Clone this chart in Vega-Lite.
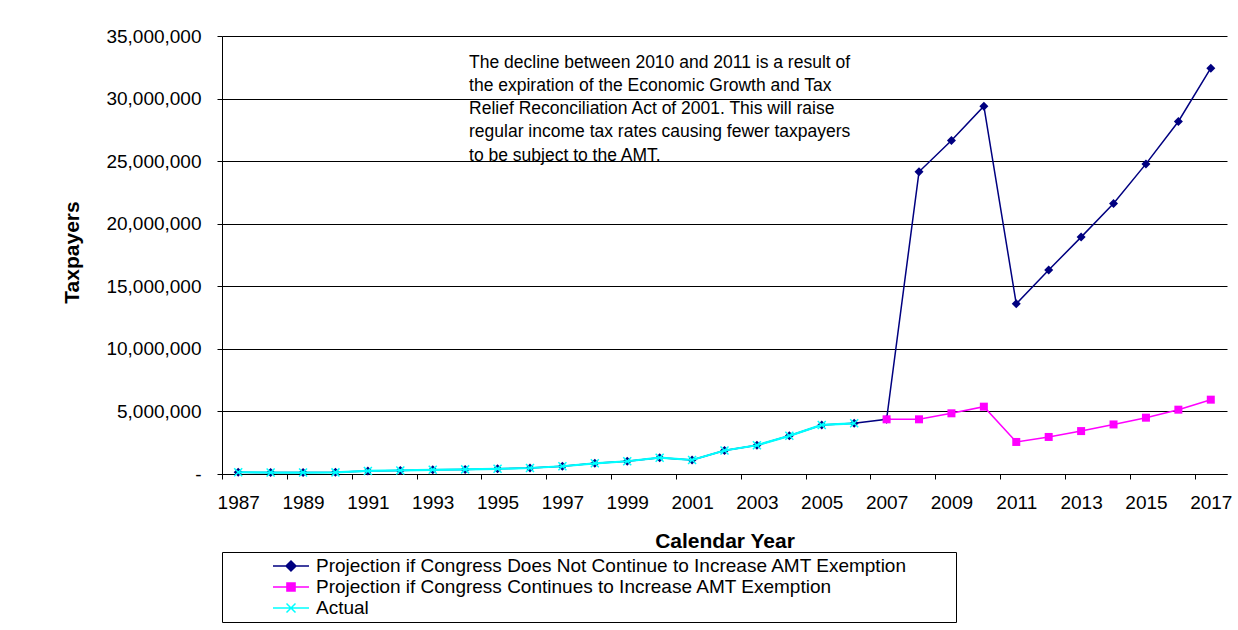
{
  "$schema": "https://vega.github.io/schema/vega-lite/v6.json",
  "width": 1005,
  "height": 438,
  "autosize": {"type": "none"},
  "padding": {"left": 222, "top": 36, "right": 11, "bottom": 156},
  "background": "#ffffff",
  "config": {
    "view": {"stroke": null},
    "font": "Liberation Sans"
  },
  "datasets": {
    "amt": [
      {"Year": 1987, "Series": "Projection if Congress Does Not Continue to Increase AMT Exemption", "Taxpayers": 140000},
      {"Year": 1988, "Series": "Projection if Congress Does Not Continue to Increase AMT Exemption", "Taxpayers": 114000},
      {"Year": 1989, "Series": "Projection if Congress Does Not Continue to Increase AMT Exemption", "Taxpayers": 117000},
      {"Year": 1990, "Series": "Projection if Congress Does Not Continue to Increase AMT Exemption", "Taxpayers": 132000},
      {"Year": 1991, "Series": "Projection if Congress Does Not Continue to Increase AMT Exemption", "Taxpayers": 244000},
      {"Year": 1992, "Series": "Projection if Congress Does Not Continue to Increase AMT Exemption", "Taxpayers": 287000},
      {"Year": 1993, "Series": "Projection if Congress Does Not Continue to Increase AMT Exemption", "Taxpayers": 335000},
      {"Year": 1994, "Series": "Projection if Congress Does Not Continue to Increase AMT Exemption", "Taxpayers": 369000},
      {"Year": 1995, "Series": "Projection if Congress Does Not Continue to Increase AMT Exemption", "Taxpayers": 414000},
      {"Year": 1996, "Series": "Projection if Congress Does Not Continue to Increase AMT Exemption", "Taxpayers": 478000},
      {"Year": 1997, "Series": "Projection if Congress Does Not Continue to Increase AMT Exemption", "Taxpayers": 618000},
      {"Year": 1998, "Series": "Projection if Congress Does Not Continue to Increase AMT Exemption", "Taxpayers": 853000},
      {"Year": 1999, "Series": "Projection if Congress Does Not Continue to Increase AMT Exemption", "Taxpayers": 1018000},
      {"Year": 2000, "Series": "Projection if Congress Does Not Continue to Increase AMT Exemption", "Taxpayers": 1304000},
      {"Year": 2001, "Series": "Projection if Congress Does Not Continue to Increase AMT Exemption", "Taxpayers": 1120000},
      {"Year": 2002, "Series": "Projection if Congress Does Not Continue to Increase AMT Exemption", "Taxpayers": 1880000},
      {"Year": 2003, "Series": "Projection if Congress Does Not Continue to Increase AMT Exemption", "Taxpayers": 2300000},
      {"Year": 2004, "Series": "Projection if Congress Does Not Continue to Increase AMT Exemption", "Taxpayers": 3050000},
      {"Year": 2005, "Series": "Projection if Congress Does Not Continue to Increase AMT Exemption", "Taxpayers": 3920000},
      {"Year": 2006, "Series": "Projection if Congress Does Not Continue to Increase AMT Exemption", "Taxpayers": 4050000},
      {"Year": 2007, "Series": "Projection if Congress Does Not Continue to Increase AMT Exemption", "Taxpayers": 4370000},
      {"Year": 2008, "Series": "Projection if Congress Does Not Continue to Increase AMT Exemption", "Taxpayers": 24150000},
      {"Year": 2009, "Series": "Projection if Congress Does Not Continue to Increase AMT Exemption", "Taxpayers": 26650000},
      {"Year": 2010, "Series": "Projection if Congress Does Not Continue to Increase AMT Exemption", "Taxpayers": 29390000},
      {"Year": 2011, "Series": "Projection if Congress Does Not Continue to Increase AMT Exemption", "Taxpayers": 13600000},
      {"Year": 2012, "Series": "Projection if Congress Does Not Continue to Increase AMT Exemption", "Taxpayers": 16300000},
      {"Year": 2013, "Series": "Projection if Congress Does Not Continue to Increase AMT Exemption", "Taxpayers": 18930000},
      {"Year": 2014, "Series": "Projection if Congress Does Not Continue to Increase AMT Exemption", "Taxpayers": 21620000},
      {"Year": 2015, "Series": "Projection if Congress Does Not Continue to Increase AMT Exemption", "Taxpayers": 24780000},
      {"Year": 2016, "Series": "Projection if Congress Does Not Continue to Increase AMT Exemption", "Taxpayers": 28170000},
      {"Year": 2017, "Series": "Projection if Congress Does Not Continue to Increase AMT Exemption", "Taxpayers": 32430000},
      {"Year": 2007, "Series": "Projection if Congress Continues to Increase AMT Exemption", "Taxpayers": 4370000},
      {"Year": 2008, "Series": "Projection if Congress Continues to Increase AMT Exemption", "Taxpayers": 4370000},
      {"Year": 2009, "Series": "Projection if Congress Continues to Increase AMT Exemption", "Taxpayers": 4850000},
      {"Year": 2010, "Series": "Projection if Congress Continues to Increase AMT Exemption", "Taxpayers": 5380000},
      {"Year": 2011, "Series": "Projection if Congress Continues to Increase AMT Exemption", "Taxpayers": 2560000},
      {"Year": 2012, "Series": "Projection if Congress Continues to Increase AMT Exemption", "Taxpayers": 2960000},
      {"Year": 2013, "Series": "Projection if Congress Continues to Increase AMT Exemption", "Taxpayers": 3430000},
      {"Year": 2014, "Series": "Projection if Congress Continues to Increase AMT Exemption", "Taxpayers": 3960000},
      {"Year": 2015, "Series": "Projection if Congress Continues to Increase AMT Exemption", "Taxpayers": 4500000},
      {"Year": 2016, "Series": "Projection if Congress Continues to Increase AMT Exemption", "Taxpayers": 5140000},
      {"Year": 2017, "Series": "Projection if Congress Continues to Increase AMT Exemption", "Taxpayers": 5940000},
      {"Year": 1987, "Series": "Actual", "Taxpayers": 140000},
      {"Year": 1988, "Series": "Actual", "Taxpayers": 114000},
      {"Year": 1989, "Series": "Actual", "Taxpayers": 117000},
      {"Year": 1990, "Series": "Actual", "Taxpayers": 132000},
      {"Year": 1991, "Series": "Actual", "Taxpayers": 244000},
      {"Year": 1992, "Series": "Actual", "Taxpayers": 287000},
      {"Year": 1993, "Series": "Actual", "Taxpayers": 335000},
      {"Year": 1994, "Series": "Actual", "Taxpayers": 369000},
      {"Year": 1995, "Series": "Actual", "Taxpayers": 414000},
      {"Year": 1996, "Series": "Actual", "Taxpayers": 478000},
      {"Year": 1997, "Series": "Actual", "Taxpayers": 618000},
      {"Year": 1998, "Series": "Actual", "Taxpayers": 853000},
      {"Year": 1999, "Series": "Actual", "Taxpayers": 1018000},
      {"Year": 2000, "Series": "Actual", "Taxpayers": 1304000},
      {"Year": 2001, "Series": "Actual", "Taxpayers": 1120000},
      {"Year": 2002, "Series": "Actual", "Taxpayers": 1880000},
      {"Year": 2003, "Series": "Actual", "Taxpayers": 2300000},
      {"Year": 2004, "Series": "Actual", "Taxpayers": 3050000},
      {"Year": 2005, "Series": "Actual", "Taxpayers": 3920000},
      {"Year": 2006, "Series": "Actual", "Taxpayers": 4050000}
    ],
    "note": [
      {"Year": 1994.12, "Taxpayers": 33600000, "Note": ["The decline between 2010 and 2011 is a result of", "the expiration of the Economic Growth and Tax", "Relief Reconciliation Act of 2001. This will raise", "regular income tax rates causing fewer taxpayers", "to be subject to the AMT."]}
    ]
  },
  "layer": [
    {
      "data": {"name": "amt"},
      "encoding": {
        "x": {
          "field": "Year",
          "type": "quantitative",
          "scale": {"domain": [1986.5, 2017.5], "nice": false, "zero": false},
          "axis": {
            "title": "Calendar Year",
            "titleFont": "Liberation Sans",
            "titleFontSize": 21,
            "titleFontWeight": "bold",
            "titleColor": "#000000",
            "titleX": 502.5,
            "titleY": 56,
            "titleBaseline": "top",
            "titleAlign": "center",
            "values": [1986.5, 1987.5, 1988.5, 1989.5, 1990.5, 1991.5, 1992.5, 1993.5, 1994.5, 1995.5, 1996.5, 1997.5, 1998.5, 1999.5, 2000.5, 2001.5, 2002.5, 2003.5, 2004.5, 2005.5, 2006.5, 2007.5, 2008.5, 2009.5, 2010.5, 2011.5, 2012.5, 2013.5, 2014.5, 2015.5, 2016.5, 2017.5],
            "labelExpr": "((datum.value + 0.5) % 2 == 1) ? format(datum.value + 0.5, 'd') : ''",
            "labelOffset": 16.21,
            "labelFlush": false,
            "labelOverlap": false,
            "labelFont": "Liberation Sans",
            "labelFontSize": 19,
            "labelColor": "#000000",
            "labelPadding": 14,
            "grid": false,
            "domainColor": "#000000",
            "domainWidth": 1,
            "tickColor": "#000000",
            "tickSize": 5,
            "tickWidth": 1
          }
        },
        "y": {
          "field": "Taxpayers",
          "type": "quantitative",
          "scale": {"domain": [0, 35000000], "nice": false},
          "axis": {
            "title": "Taxpayers",
            "titleFont": "Liberation Sans",
            "titleFontSize": 21,
            "titleFontWeight": "bold",
            "titleColor": "#000000",
            "titleAngle": -90,
            "titleX": -144,
            "titleY": 216,
            "titleAlign": "center",
            "titleBaseline": "alphabetic",
            "values": [0, 5000000, 10000000, 15000000, 20000000, 25000000, 30000000, 35000000],
            "labelExpr": "datum.value == 0 ? '-' : format(datum.value, ',')",
            "labelFont": "Liberation Sans",
            "labelFontSize": 19,
            "labelColor": "#000000",
            "labelPadding": 16,
            "grid": true,
            "gridColor": "#000000",
            "gridWidth": 1,
            "domainColor": "#000000",
            "domainWidth": 1,
            "tickColor": "#000000",
            "tickSize": 5,
            "tickWidth": 1
          }
        },
        "color": {
          "field": "Series",
          "type": "nominal",
          "scale": {
            "domain": ["Projection if Congress Does Not Continue to Increase AMT Exemption", "Projection if Congress Continues to Increase AMT Exemption", "Actual"],
            "range": ["#000080", "#FF00FF", "#00FFFF"]
          },
          "legend": {
            "orient": "none",
            "legendX": 0,
            "legendY": 516,
            "direction": "vertical",
            "title": "x",
            "titleOrient": "right",
            "titleColor": "#ffffff",
            "titleFontSize": 8,
            "titlePadding": 40,
            "strokeColor": "#000000",
            "fillColor": "#ffffff",
            "padding": 4,
            "labelFont": "Liberation Sans",
            "labelFontSize": 19,
            "labelColor": "#000000",
            "labelLimit": 1000,
            "symbolSize": 324,
            "symbolStrokeWidth": 1.5,
            "symbolOffset": 55,
            "labelOffset": 15,
            "rowPadding": 1,
            "encode": {
              "symbols": {
                "update": {
                  "shape": {"signal": "datum.value == 'Actual' ? 'M-2,0H2M-0.5,-0.5L0.5,0.5M-0.5,0.5L0.5,-0.5' : (datum.value == 'Projection if Congress Does Not Continue to Increase AMT Exemption' ? 'M-2,0H2M0,-0.55L0.55,0L0,0.55L-0.55,0Z' : 'M-2,0H2M-0.45,-0.45H0.45V0.45H-0.45Z')"},
                  "fill": {"signal": "datum.value == 'Actual' ? '#00FFFF' : (datum.value == 'Projection if Congress Does Not Continue to Increase AMT Exemption' ? '#000080' : '#FF00FF')"},
                  "stroke": {"signal": "datum.value == 'Actual' ? '#00FFFF' : (datum.value == 'Projection if Congress Does Not Continue to Increase AMT Exemption' ? '#000080' : '#FF00FF')"},
                  "strokeWidth": {"value": 1.5},
                  "opacity": {"value": 1},
                  "fillOpacity": {"value": 1},
                  "size": {"value": 324}
                }
              }
            }
          }
        }
      },
      "layer": [
        {
          "transform": [{"filter": "datum.Series == 'Projection if Congress Does Not Continue to Increase AMT Exemption'"}],
          "mark": {"type": "line", "strokeWidth": 1.5}
        },
        {
          "transform": [{"filter": "datum.Series == 'Projection if Congress Does Not Continue to Increase AMT Exemption'"}],
          "mark": {"type": "point", "shape": "diamond", "filled": true, "size": 81, "opacity": 1}
        },
        {
          "transform": [{"filter": "datum.Series == 'Projection if Congress Continues to Increase AMT Exemption'"}],
          "mark": {"type": "line", "strokeWidth": 1.5}
        },
        {
          "transform": [{"filter": "datum.Series == 'Projection if Congress Continues to Increase AMT Exemption'"}],
          "mark": {"type": "point", "shape": "square", "filled": true, "size": 64, "opacity": 1}
        },
        {
          "transform": [{"filter": "datum.Series == 'Actual'"}],
          "mark": {"type": "line", "strokeWidth": 2.2}
        },
        {
          "transform": [{"filter": "datum.Series == 'Actual'"}],
          "mark": {"type": "point", "shape": "M-1,-1L1,1M-1,1L1,-1", "filled": false, "size": 64, "strokeWidth": 1.5, "opacity": 1}
        }
      ]
    },
    {
      "data": {"name": "note"},
      "mark": {
        "type": "text",
        "align": "left",
        "baseline": "top",
        "font": "Liberation Sans",
        "fontSize": 17.5,
        "lineHeight": 23.3,
        "color": "#000000"
      },
      "encoding": {
        "x": {"field": "Year", "type": "quantitative"},
        "y": {"field": "Taxpayers", "type": "quantitative"},
        "text": {"field": "Note"}
      }
    }
  ]
}
